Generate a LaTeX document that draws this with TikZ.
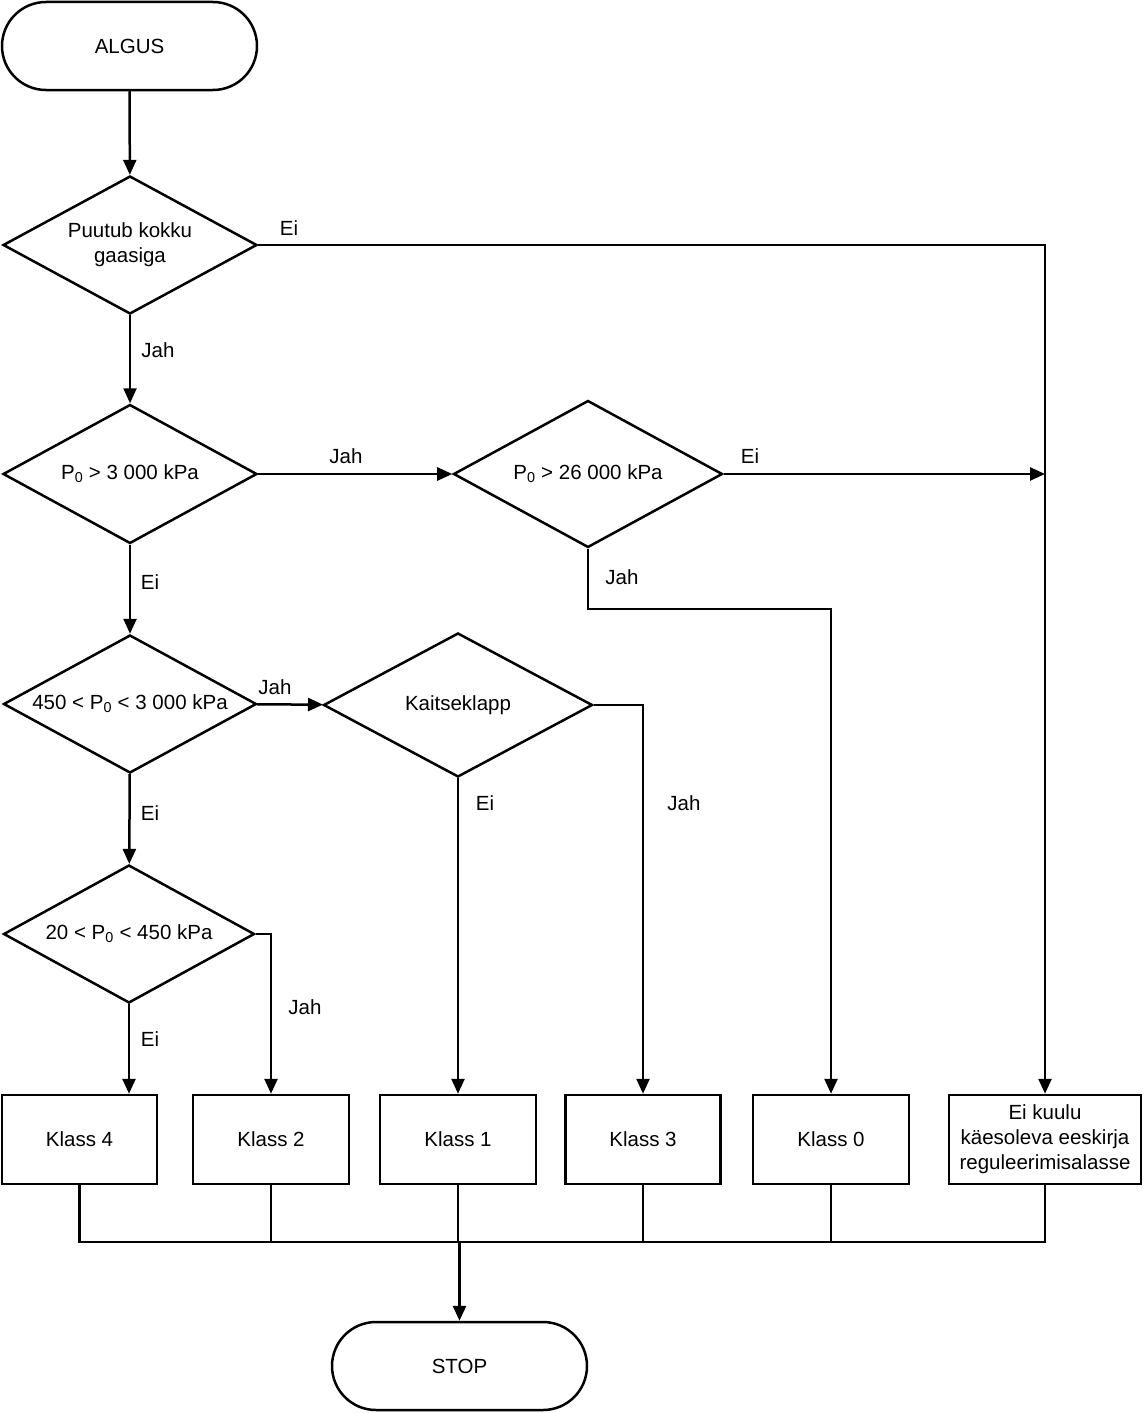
\documentclass[tikz,border=0pt]{standalone}
\usepackage{fontspec}
\setmainfont{Liberation Sans}
\usetikzlibrary{shapes.geometric,arrows.meta}

\tikzset{
  base/.style={draw, line width=2.5pt, font=\fontsize{20.5}{25}\selectfont, align=center, inner sep=1pt},
  term/.style={base, rectangle, rounded corners=44pt, minimum width=255pt, minimum height=88pt},
  test/.style={base, diamond, aspect=1.85, inner sep=0pt},
  klass/.style={base, rectangle, minimum height=89pt},
  lbl/.style={font=\fontsize{20.5}{25}\selectfont, inner sep=0pt},
  flow/.style={line width=2.5pt}
}

\begin{document}
\begin{tikzpicture}[x=1pt, y=-1pt, >={Triangle[length=15pt,width=13pt]}]
  \useasboundingbox (0,0) rectangle (1143,1413);

  % start / stop
  \node[term] (start) at (129.5,46) {ALGUS};
  \node[term] (stop) at (459.5,1366) {STOP};

  % decisions
  \node[test, minimum width=254pt, minimum height=138pt] (gas) at (130,245) {Puutub kokku\\gaasiga};
  \node[test, minimum width=254pt, minimum height=139pt] (p3000) at (130,474) {P\textsubscript{0} > 3 000 kPa};
  \node[test, minimum width=269pt, minimum height=147pt] (p26000) at (588,474) {P\textsubscript{0} > 26 000 kPa};
  \node[test, minimum width=253pt, minimum height=138pt] (p450) at (130,704) {450 < P\textsubscript{0} < 3 000 kPa};
  \node[test, minimum width=269pt, minimum height=144pt] (valve) at (458,705) {Kaitseklapp};
  \node[test, minimum width=251pt, minimum height=138pt] (p20) at (129,934) {20 < P\textsubscript{0} < 450 kPa};

  % classes
  \node[klass, minimum width=155pt] (k4) at (79.5,1139.5) {Klass 4};
  \node[klass, minimum width=156pt] (k2) at (271,1139.5) {Klass 2};
  \node[klass, minimum width=156pt] (k1) at (458,1139.5) {Klass 1};
  \node[klass, minimum width=155pt] (k3) at (643,1139.5) {Klass 3};
  \node[klass, minimum width=156pt] (k0) at (831,1139.5) {Klass 0};
  \node[klass, minimum width=192pt] (out) at (1045,1139.5) {Ei kuulu\\käesoleva eeskirja\\reguleerimisalasse};

  \coordinate (bus) at (0,1242);

  % connectors
  \draw[flow, ->] (start) -- (gas);
  \draw[flow, ->] (gas.east) -| (out.north);
  \draw[flow, ->] (gas) -- (p3000);
  \draw[flow, ->] (p3000) -- (p26000);
  \draw[flow, ->] (p26000.east) -- (p26000.east -| out.north);
  \draw[flow, ->] (p26000.south) -- ++(0,60) -| (k0.north);
  \draw[flow, ->] (p3000) -- (p450);
  \draw[flow, ->] (p450) -- (valve);
  \draw[flow, ->] (valve.south) -- (k1.north);
  \draw[flow, ->] (valve.east) -| (k3.north);
  \draw[flow, ->] (p450) -- (p20);
  \draw[flow, ->] (p20.south) -- (p20.south |- k4.north);
  \draw[flow, ->] (p20.east) -| (k2.north);

  \draw[flow] (k4.south) |- (out.south |- bus) -- (out.south);
  \foreach \k in {k2,k1,k3,k0}
    \draw[flow] (\k.south) -- (\k.south |- bus);
  \draw[flow, ->] (stop.north |- bus) -- (stop.north);

  % labels
  \node[lbl] (l1) at (289,228) {Ei};
  \node[lbl] (l2) at (158,350) {Jah};
  \node[lbl] (l3) at (346,456) {Jah};
  \node[lbl] (l4) at (750,456) {Ei};
  \node[lbl] (l5) at (622,577) {Jah};
  \node[lbl] (l6) at (150,582) {Ei};
  \node[lbl] (l7) at (275,687) {Jah};
  \node[lbl] (l8) at (485,803) {Ei};
  \node[lbl] (l9) at (684,803) {Jah};
  \node[lbl] (l10) at (150,813) {Ei};
  \node[lbl] (l11) at (305,1007) {Jah};
  \node[lbl] (l12) at (150,1039) {Ei};
\end{tikzpicture}
\end{document}
